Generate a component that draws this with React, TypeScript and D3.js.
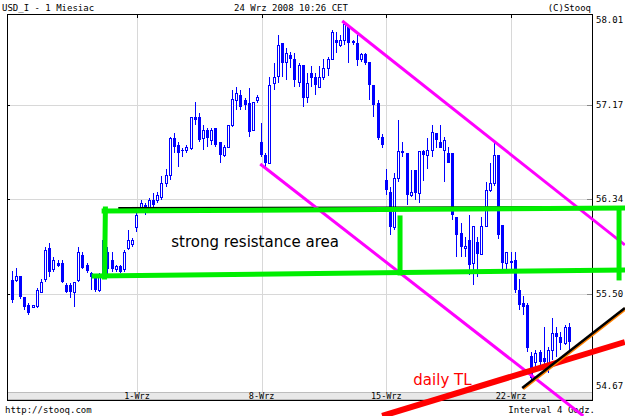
import React from "react";
import * as d3 from "d3";

const opens = [55.63,55.63,55.66,55.48,55.41,55.39,55.40,55.52,55.64,55.91,55.72,55.78,55.78,55.58,55.58,55.52,55.63,55.85,55.76,55.69,55.65,55.54,55.67,55.87,55.80,55.72,55.75,55.72,55.91,55.94,
56.09,56.27,56.29,56.26,56.33,56.33,56.36,56.48,56.55,56.88,56.82,56.77,56.77,56.79,57.06,57.06,56.88,56.95,56.86,56.97,56.84,56.73,56.80,56.99,57.21,57.26,57.21,57.19,56.95,57.21,
56.84,56.73,56.66,57.36,57.43,57.72,57.55,57.61,57.58,57.37,57.52,57.24,57.45,57.42,57.33,57.42,57.50,57.58,57.74,57.70,57.74,57.86,57.73,57.72,57.58,57.62,57.55,57.35,57.19,56.89,
56.51,56.40,56.09,56.53,56.76,56.75,56.38,56.60,56.39,56.76,56.73,56.77,56.92,56.84,56.77,56.75,56.75,56.18,56.04,55.91,55.98,55.78,55.96,55.86,56.10,56.42,56.48,56.73,56.11,55.78,
55.79,55.80,55.54,55.42,55.41,54.96,54.90,54.99,54.94,54.88,55.01,55.16,55.12,55.07,55.21];
const highs = [55.71,55.73,55.66,55.48,55.42,55.41,55.56,55.64,55.92,55.95,55.83,55.80,55.80,55.60,55.60,55.61,55.92,55.87,55.78,55.70,55.67,55.69,56.00,55.92,55.87,55.76,55.76,55.89,56.07,56.00,
56.22,56.33,56.31,56.35,56.39,56.40,56.54,56.61,56.89,56.92,56.84,56.79,56.82,57.06,57.20,57.10,56.99,56.97,56.97,56.97,56.84,56.82,56.99,57.30,57.33,57.30,57.23,57.32,57.20,57.26,
57.01,56.75,57.42,57.54,57.79,57.72,57.67,57.64,57.63,57.54,57.52,57.45,57.51,57.45,57.51,57.58,57.59,57.83,57.81,57.79,57.88,57.86,57.74,57.79,57.63,57.63,57.55,57.35,57.21,56.91,
56.61,56.45,56.57,57.04,56.84,56.75,56.60,56.60,56.76,56.77,56.88,56.99,56.92,56.99,56.89,56.80,56.75,56.18,56.13,56.01,56.20,56.10,56.01,56.18,56.49,56.66,56.86,56.73,56.11,55.87,
55.87,55.87,55.64,55.49,55.42,54.99,55.01,55.01,55.21,55.04,55.29,55.21,55.17,55.23,55.25];
const lows = [55.42,55.61,55.46,55.36,55.32,55.38,55.38,55.51,55.61,55.65,55.70,55.74,55.60,55.51,55.47,55.39,55.61,55.72,55.69,55.54,55.52,55.52,55.65,55.67,55.70,55.70,55.69,55.70,55.89,55.92,
56.05,56.25,56.20,56.23,56.27,56.31,56.33,56.45,56.51,56.75,56.62,56.71,56.75,56.77,56.99,56.84,56.77,56.80,56.82,56.80,56.66,56.71,56.80,56.98,57.13,57.13,57.13,56.89,56.95,57.19,
56.71,56.62,56.66,57.30,57.36,57.42,57.39,57.50,57.33,57.33,57.15,57.19,57.33,57.26,57.33,57.39,57.43,57.57,57.63,57.68,57.70,57.54,57.70,57.51,57.55,57.52,57.21,57.06,56.86,56.79,
56.38,56.02,56.07,56.49,56.71,56.29,56.36,56.33,56.31,56.50,56.61,56.71,56.79,56.79,56.49,56.66,56.16,55.83,55.83,55.83,55.67,55.58,55.65,55.85,56.10,56.40,56.46,55.99,55.72,55.72,
55.72,55.51,55.36,55.32,54.99,54.73,54.82,54.83,54.88,54.81,54.92,54.95,55.01,55.05,55.01];
const closes = [55.45,55.66,55.48,55.39,55.34,55.41,55.54,55.61,55.89,55.70,55.80,55.75,55.61,55.52,55.52,55.61,55.87,55.73,55.71,55.65,55.54,55.67,55.98,55.72,55.72,55.75,55.70,55.87,55.98,55.98,
56.20,56.31,56.23,56.33,56.29,56.38,56.48,56.55,56.88,56.80,56.75,56.76,56.80,57.06,57.04,56.86,56.95,56.88,56.95,56.82,56.73,56.80,56.99,57.22,57.28,57.15,57.17,56.93,57.20,57.24,
56.73,56.66,57.35,57.42,57.70,57.54,57.63,57.58,57.39,57.52,57.23,57.36,57.41,57.35,57.42,57.50,57.58,57.81,57.72,57.74,57.88,57.72,57.72,57.57,57.62,57.54,57.35,57.17,56.88,56.82,
56.42,56.09,56.53,56.76,56.75,56.38,56.40,56.39,56.76,56.73,56.77,56.93,56.86,56.79,56.86,56.66,56.20,56.02,55.92,55.93,55.76,56.10,55.86,56.10,56.42,56.48,56.73,56.02,55.78,55.87,
55.78,55.54,55.41,55.39,55.03,54.76,54.98,54.90,54.90,55.01,55.16,55.12,55.07,55.21,55.08];

const weekLabels = ["1-Wrz", "8-Wrz", "15-Wrz", "22-Wrz"];
const weekStarts = [30, 60, 90, 120];
const priceTicks = [54.67, 55.5, 56.34, 57.17, 58.01];

// hand-drawn annotations, in (candle index, price) space
const greenLines: [number, number][][] = [
  [[22.1, 56.235], [147.2, 56.262]],
  [[22.4, 56.253], [22.2, 55.653]],
  [[19.7, 55.662], [147.2, 55.715]],
  [[93.3, 56.174], [93.3, 55.689]],
  [[146.0, 56.226], [146.0, 55.645]],
];
const blackLevel: [number, number][] = [[25.5, 56.262], [141.4, 56.271]];
const magentaLines: [number, number][][] = [
  [[79.4, 57.911], [147.4, 55.936]],
  [[59.66, 56.65], [137.4, 54.428]],
];
const redTL: [number, number][] = [[89.0, 54.428], [147.4, 55.08]];
const blackTL: [number, number][] = [[122.7, 54.675], [147.4, 55.38]];

const W = 625, H = 416;
const L = 7, R = 592, T = 14, B = 400;

export default function App() {
  const x = d3.scaleLinear().domain([0, 120]).range([12.3, 511]);
  const y = d3.scaleLinear().domain([54.67, 57.17]).range([388.5, 105]);
  const line = d3.line<[number, number]>().x(d => x(d[0])).y(d => y(d[1]));
  const mono = "'DejaVu Sans Mono', monospace";

  return (
    <svg width={W} height={H} style={{ position: "absolute", left: 0, top: 0, background: "#fff" }}>
      <rect x={0} y={0} width={W} height={H} fill="#fff" />
      {/* gridlines */}
      {priceTicks.slice(1, 4).map(p => (
        <line key={"h" + p} x1={L} x2={R} y1={Math.round(y(p)) + 0.5} y2={Math.round(y(p)) + 0.5} stroke="#d8d8d8" />
      ))}
      {weekStarts.map(i => (
        <line key={"v" + i} x1={Math.round(x(i)) + 0.5} x2={Math.round(x(i)) + 0.5} y1={T} y2={B - 7} stroke="#d8d8d8" />
      ))}
      {/* ticks on borders */}
      {priceTicks.slice(1, 4).map(p => (
        <g key={"t" + p}>
          <line x1={L} x2={L + 3} y1={Math.round(y(p)) + 0.5} y2={Math.round(y(p)) + 0.5} stroke="#000" />
          <line x1={R - 5} x2={R} y1={Math.round(y(p)) + 0.5} y2={Math.round(y(p)) + 0.5} stroke="#888" />
        </g>
      ))}
      {weekStarts.map(i => (
        <line key={"tt" + i} x1={Math.round(x(i)) + 0.5} x2={Math.round(x(i)) + 0.5} y1={T} y2={T + 4} stroke="#000" />
      ))}
      {/* bottom band */}
      <rect x={L + 0.5} y={B - 7.5} width={R - L} height={7} fill="#e8e8e8" stroke="#bdbdbd" />
      {weekStarts.map((i, k) => (
        <text key={"xl" + i} x={x(i)} y={B - 1} fontFamily={mono} fontSize={8.5} textAnchor="middle" fill="#000">{weekLabels[k]}</text>
      ))}
      {/* candles */}
      {opens.map((o, i) => {
        const c = closes[i];
        const px = Math.floor(x(i));
        const top = Math.round(y(Math.max(o, c)));
        const bot = Math.round(y(Math.min(o, c)));
        const up = c >= o;
        return (
          <g key={"c" + i}>
            <line x1={px + 0.5} x2={px + 0.5} y1={Math.round(y(highs[i]))} y2={Math.round(y(lows[i]))} stroke="#0000ff" />
            {up ? (
              <rect x={px - 0.5} y={top + 0.5} width={2} height={Math.max(bot - top, 1)} fill="#fff" stroke="#0000ff" />
            ) : (
              <rect x={px - 1} y={top} width={3} height={Math.max(bot - top, 1)} fill="#0000ff" />
            )}
          </g>
        );
      })}
      {/* frame */}
      <rect x={L + 0.5} y={T + 0.5} width={R - L} height={B - T} fill="none" stroke="#000" />
      {/* y labels */}
      {priceTicks.map(p => (
        <text key={"yl" + p} x={596} y={Math.min(Math.max(y(p), 20), 386) + 3} fontFamily={mono} fontSize={9} fill="#000">{p.toFixed(2)}</text>
      ))}
      {/* header / footer */}
      <text x={2} y={11} fontFamily={mono} fontSize={9} fill="#000">USD_I - 1 Miesiac</text>
      <text x={291} y={11} fontFamily={mono} fontSize={9} textAnchor="middle" fill="#000">24 Wrz 2008 10:26 CET</text>
      <text x={591} y={11} fontFamily={mono} fontSize={9} textAnchor="end" fill="#000">(C)Stooq</text>
      <text x={5} y={413} fontFamily={mono} fontSize={9} fill="#000">http://stooq.com</text>
      <text x={595} y={413} fontFamily={mono} fontSize={9} textAnchor="end" fill="#000">Interval 4 Godz.</text>
      {/* annotations */}
      <path d={line(blackLevel) || ""} stroke="#000" strokeWidth={2} fill="none" />
      {magentaLines.map((l, k) => (
        <path key={"m" + k} d={line(l) || ""} stroke="#ff00ff" strokeWidth={3} fill="none" />
      ))}
      {greenLines.map((l, k) => (
        <path key={"g" + k} d={line(l) || ""} stroke="#00ee00" strokeWidth={5} fill="none" strokeLinecap="square" />
      ))}
      <path d={line(redTL) || ""} stroke="#ff0000" strokeWidth={6} fill="none" />
      <path d={line(blackTL) || ""} stroke="#ff8000" strokeWidth={3} fill="none" transform="translate(0.8,0.8)" />
      <path d={line(blackTL) || ""} stroke="#000" strokeWidth={2.5} fill="none" />
      <text x={x(38.25)} y={y(55.918)} fontFamily="'DejaVu Sans', sans-serif" fontSize={15} fill="#000">strong resistance area</text>
      <text x={x(96.5)} y={y(54.701)} fontFamily="'DejaVu Sans', sans-serif" fontSize={15} fill="#ff0000">daily TL</text>
    </svg>
  );
}
